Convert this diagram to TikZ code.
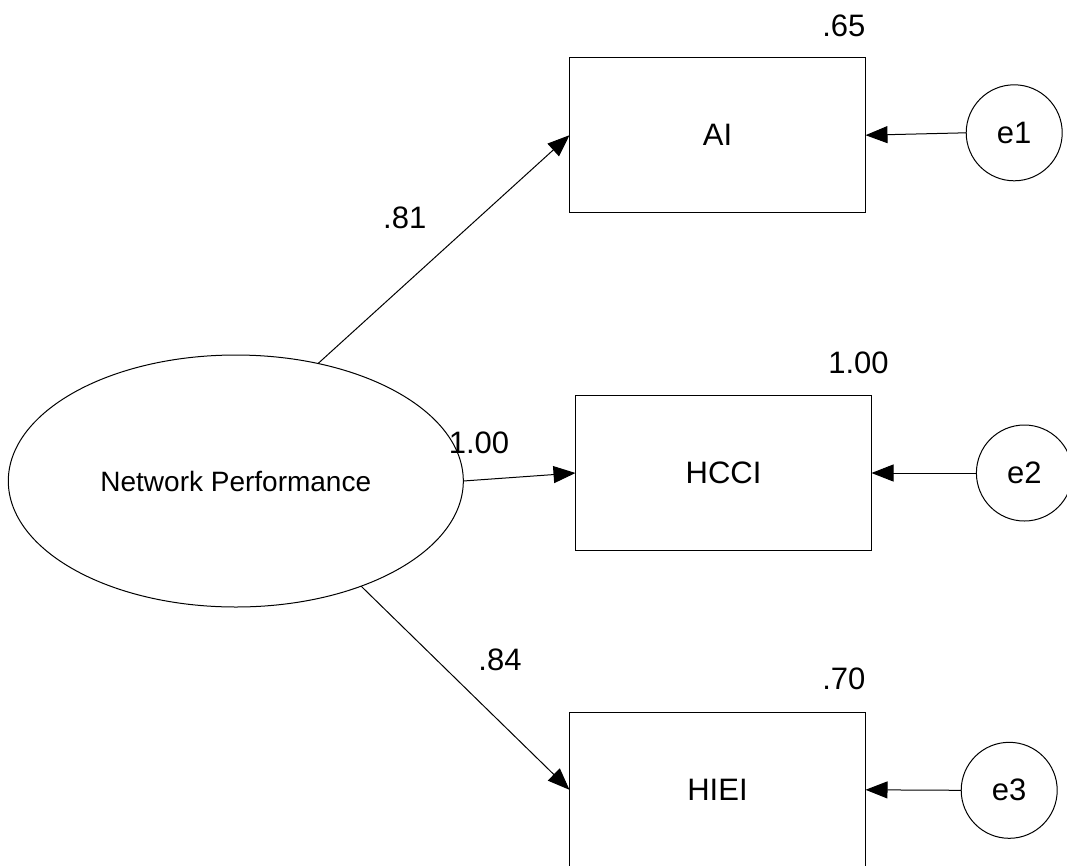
\documentclass[tikz,border=0pt]{standalone}
\usepackage{fontspec}
\setmainfont{Liberation Sans}
\usetikzlibrary{shapes.geometric,arrows.meta}
\begin{document}
\begin{tikzpicture}[x=1pt,y=-1pt,
  big/.style={font=\fontsize{31}{37}\selectfont},
  obs/.style={draw, line width=1pt, minimum width=296pt, minimum height=155pt, inner sep=0pt, outer sep=0pt, big},
  err/.style={draw, circle, line width=1pt, minimum size=96pt, inner sep=0pt, outer sep=0pt, big},
  lat/.style={draw, ellipse, line width=1pt, minimum width=455pt, minimum height=252pt, inner sep=0pt, outer sep=0pt, font=\fontsize{28}{34}\selectfont},
  lbl/.style={inner sep=0pt, big},
  sempath/.style={line width=1pt, -{Triangle[length=22pt,width=17pt]}}
]
\fill[white] (0,0) rectangle (1067,865);
\useasboundingbox (0,0) rectangle (1067,865);
\node[lat] (NP) at (235.8,481) {Network Performance};
\node[obs] (AI) at (717.5,135.2) {AI};
\node[obs] (HCCI) at (723.5,473) {HCCI};
\node[obs] (HIEI) at (717.5,789.8) {HIEI};
\node[err] (e1) at (1014.2,132.8) {e1};
\node[err] (e2) at (1024.4,473) {e2};
\node[err] (e3) at (1009.2,790.3) {e3};
\draw[sempath] (NP.55.8) -- (AI.west);
\draw[sempath] (NP.east) -- (HCCI.west);
\draw[sempath] (NP.-40.65) -- (HIEI.west);
\draw[sempath] (e1.west) -- (AI.east);
\draw[sempath] (e2.west) -- (HCCI.east);
\draw[sempath] (e3.west) -- (HIEI.east);
\node[lbl] (l65) at (843.8,26) {.65};
\node[lbl] (l81) at (404.7,217.5) {.81};
\node[lbl] (l100a) at (479,442.5) {1.00};
\node[lbl] (l100b) at (858.5,363) {1.00};
\node[lbl] (l84) at (500,660) {.84};
\node[lbl] (l70) at (843.8,679) {.70};
\end{tikzpicture}
\end{document}
